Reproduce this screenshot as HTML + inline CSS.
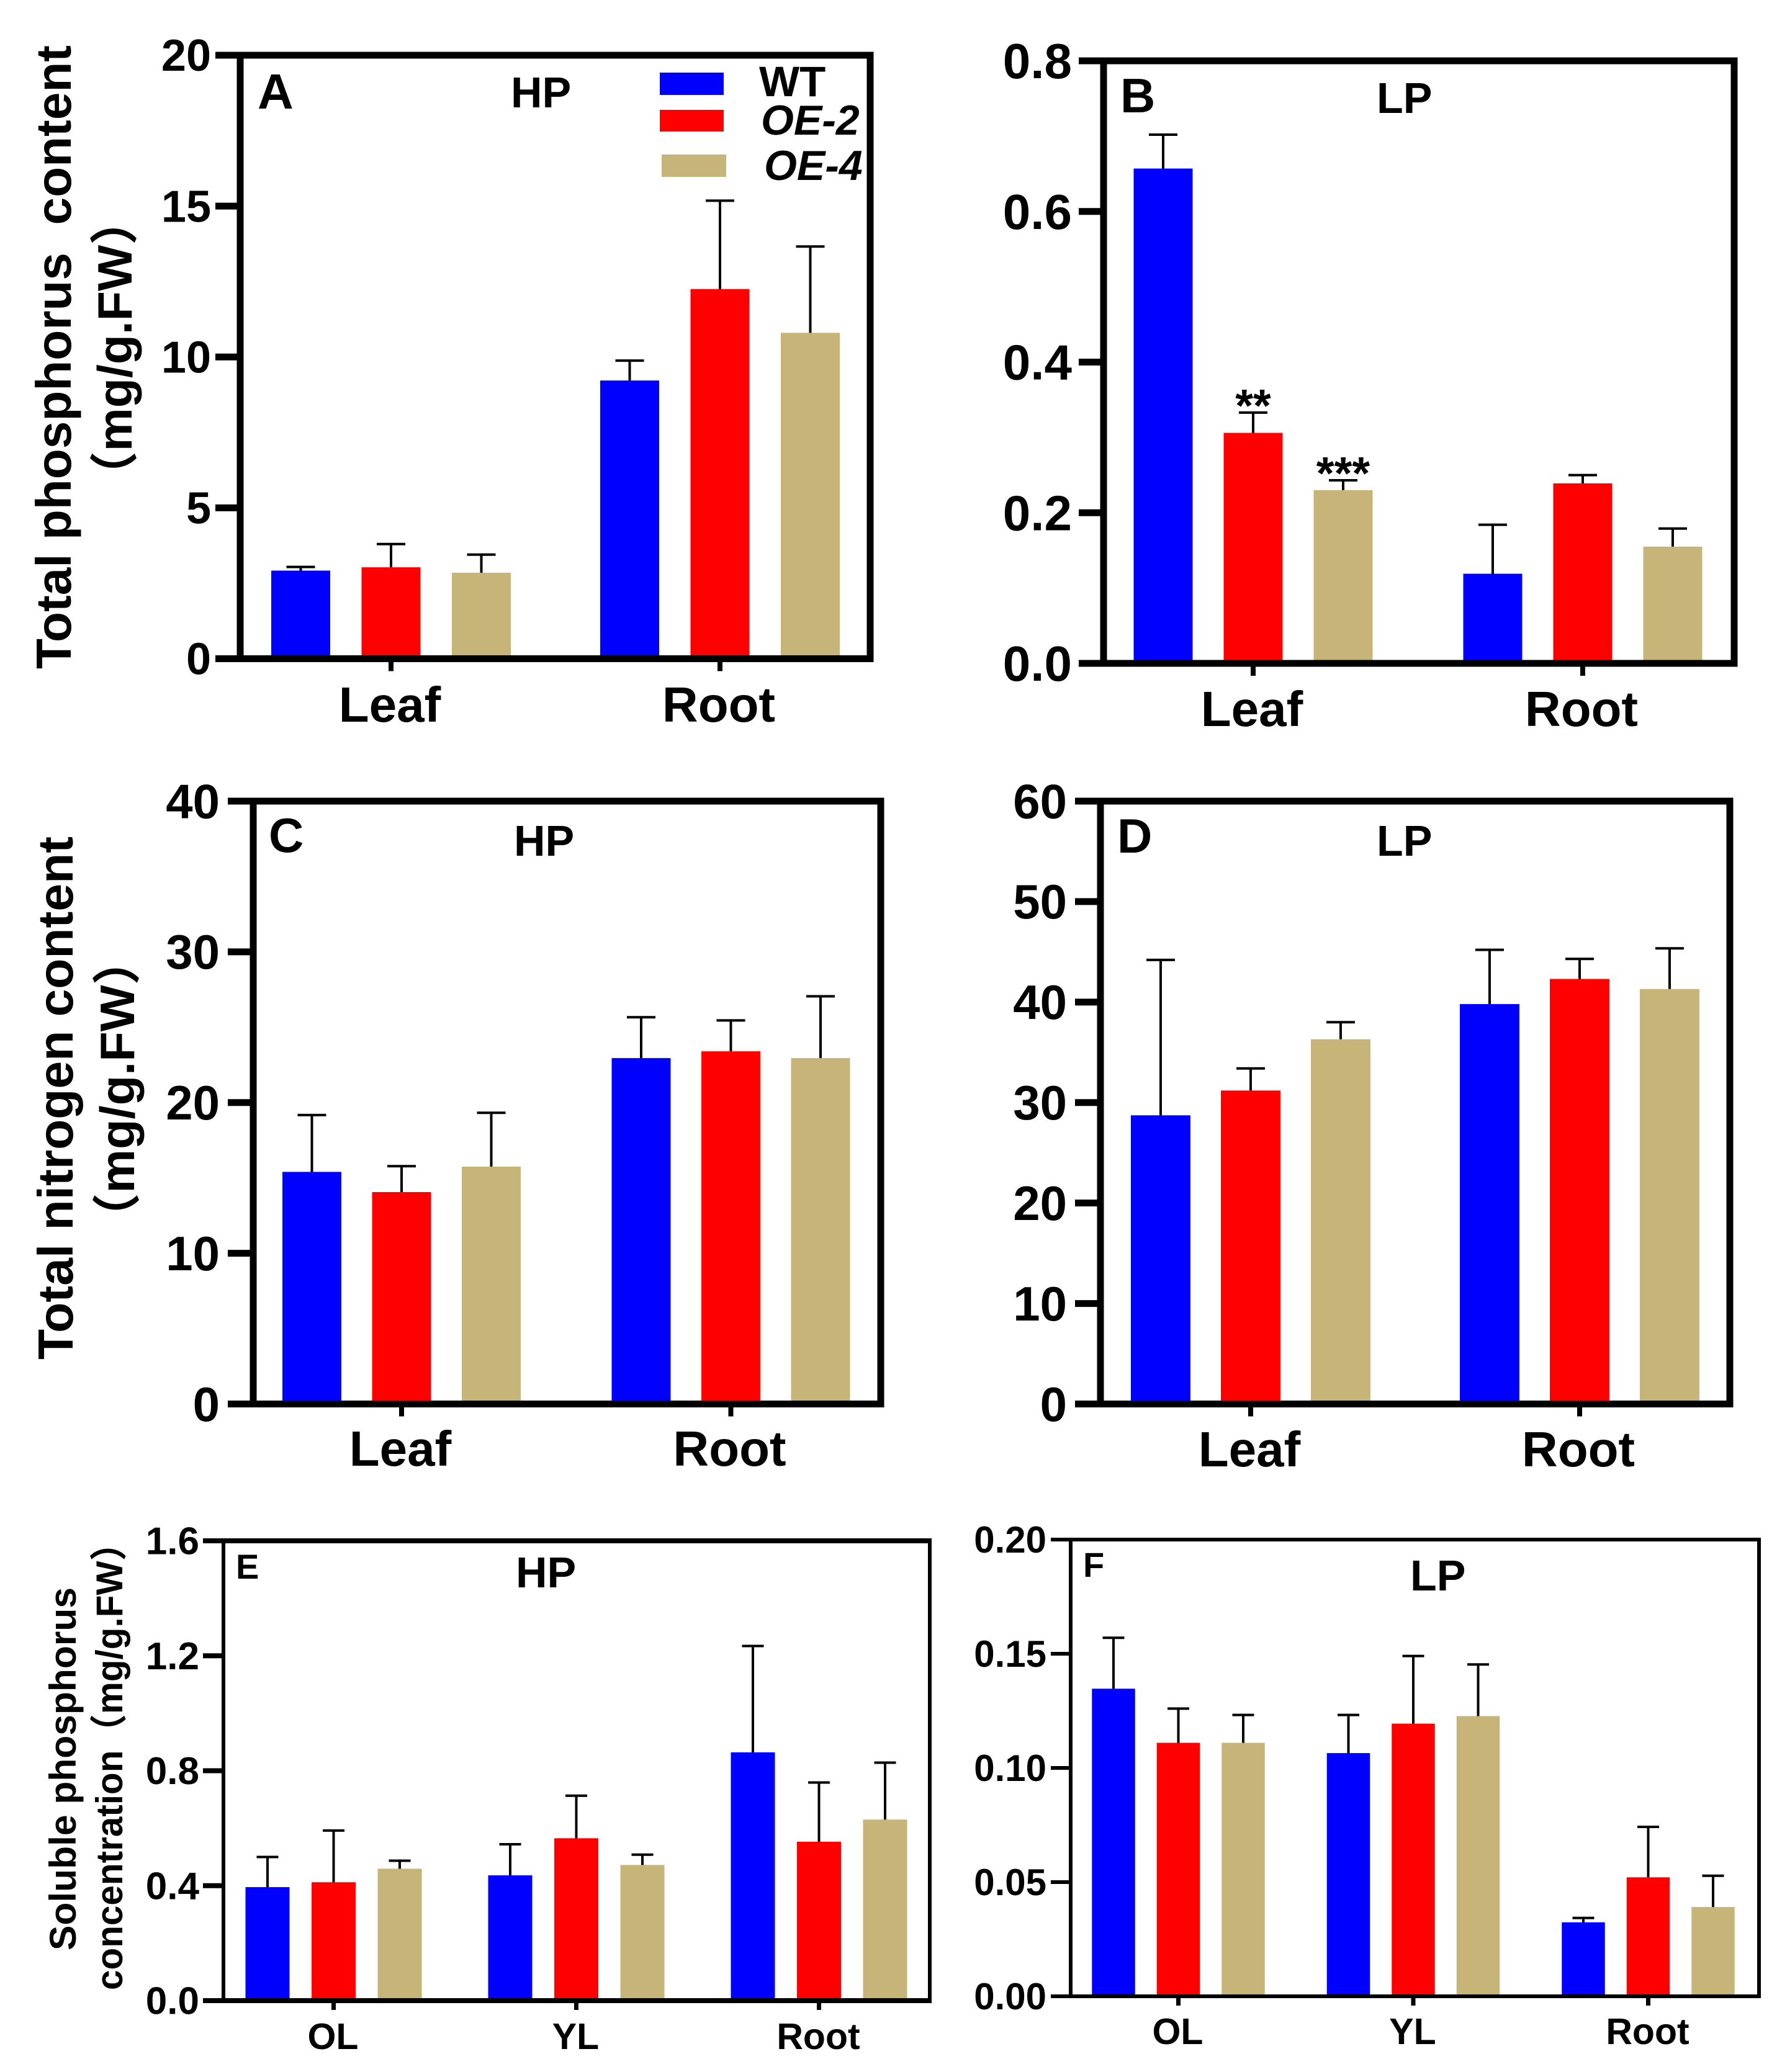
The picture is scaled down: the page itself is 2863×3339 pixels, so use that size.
<!DOCTYPE html>
<html lang="en">
<head>
<meta charset="utf-8">
<title>Phosphorus and nitrogen content bar charts</title>
<style>
html,body{margin:0;padding:0;background:#fff;}
svg{display:block;}
text{font-family:"Liberation Sans","Noto Sans CJK SC",sans-serif;font-weight:700;fill:#000;white-space:pre;}
</style>
</head>
<body>
<svg id="figure" xmlns="http://www.w3.org/2000/svg" width="2863" height="3339" viewBox="0 0 2863 3339">
  <rect x="0" y="0" width="2863" height="3339" fill="#fff"/>
  <g id="panels"></g>

  <text transform="translate(114,1078) rotate(-90)" font-size="80" textLength="1005" lengthAdjust="spacingAndGlyphs">Total phosphorus  content</text>
  <text transform="translate(212,806) rotate(-90)" font-size="78" textLength="490" lengthAdjust="spacingAndGlyphs">（mg/g.FW）</text>
  <text transform="translate(117,2191) rotate(-90)" font-size="80" textLength="843" lengthAdjust="spacingAndGlyphs">Total nitrogen content</text>
  <text transform="translate(216,2002) rotate(-90)" font-size="78" textLength="494" lengthAdjust="spacingAndGlyphs">（mg/g.FW）</text>
  <text transform="translate(122,3143) rotate(-90)" font-size="60" textLength="585" lengthAdjust="spacingAndGlyphs">Soluble phosphorus</text>
  <text transform="translate(197,3207) rotate(-90)" font-size="60" textLength="750" lengthAdjust="spacingAndGlyphs">concentration（mg/g.FW）</text>

  <g>
    <rect x="1063" y="117" width="103" height="36" fill="#0000ff"/>
    <rect x="1063" y="177" width="103" height="35" fill="#ff0000"/>
    <rect x="1066" y="249" width="104" height="36" fill="#c6b478"/>
    <text x="1223" y="155" font-size="69">WT</text>
    <text x="1226" y="217" font-size="68" font-style="italic">OE-2</text>
    <text x="1231" y="290" font-size="68" font-style="italic">OE-4</text>
  </g>
</svg>
<script>
// Shared categories and colours
const seriesColors = ['#0000ff', '#ff0000', '#c6b478'];
const seriesKeys = ['wt', 'oe-2', 'oe-4'];
const tissueCategories = ['Leaf', 'Root'];
const organCategories = ['OL', 'YL', 'Root'];

// Panel A
const aTicks = ['0', '5', '10', '15', '20'];
const aMeans = [[2.92, 9.22], [3.03, 12.25], [2.85, 10.8]];
const aErrors = [[0.12, 0.66], [0.77, 2.93], [0.6, 2.86]];
// Panel B
const bTicks = ['0.0', '0.2', '0.4', '0.6', '0.8'];
const bMeans = [[0.657, 0.119], [0.306, 0.239], [0.23, 0.155]];
const bErrors = [[0.045, 0.065], [0.027, 0.011], [0.013, 0.024]];
const bStars = [['', ''], ['**', ''], ['***', '']];
// Panel C
const cTicks = ['0', '10', '20', '30', '40'];
const cMeans = [[15.4, 22.95], [14.06, 23.4], [15.75, 22.95]];
const cErrors = [[3.77, 2.71], [1.72, 2.05], [3.57, 4.1]];
// Panel D
const dTicks = ['0', '10', '20', '30', '40', '50', '60'];
const dMeans = [[28.73, 39.8], [31.2, 42.3], [36.3, 41.3]];
const dErrors = [[15.47, 5.4], [2.2, 2.0], [1.7, 4.05]];
// Panel E
const eTicks = ['0.0', '0.4', '0.8', '1.2', '1.6'];
const eMeans = [[0.395, 0.436, 0.864], [0.412, 0.565, 0.553], [0.459, 0.472, 0.63]];
const eErrors = [[0.105, 0.108, 0.37], [0.18, 0.148, 0.206], [0.028, 0.036, 0.198]];
// Panel F
const fTicks = ['0.00', '0.05', '0.10', '0.15', '0.20'];
const fMeans = [[0.1347, 0.1065, 0.0324], [0.111, 0.1194, 0.0521], [0.111, 0.1227, 0.0391]];
const fErrors = [[0.0223, 0.0167, 0.0019], [0.015, 0.0296, 0.0221], [0.0122, 0.0226, 0.0137]];

const SVGNS = 'http://www.w3.org/2000/svg';
const root = document.getElementById('panels');

function make(parent, tag, attrs, content) {
  const el = document.createElementNS(SVGNS, tag);
  for (const k in attrs) el.setAttribute(k, attrs[k]);
  if (content !== undefined) el.textContent = content;
  parent.appendChild(el);
  return el;
}

function drawPanel(p) {
  const g = make(root, 'g', {});
  
  

  const yMax = parseFloat(p.ticks[p.ticks.length - 1]);
  const yScale = v => p.bottom - (v / yMax) * (p.bottom - p.top);
  const groupX = i => p.firstGroup + i * p.groupStep;
  const barX = (i, s) => groupX(i) + (s - 1) * p.barStep;

  // bars and error bars
  p.means.forEach((values, s) => {
    values.forEach((v, i) => {
      const cx = barX(i, s);
      const yTop = yScale(v);
      const yErr = yScale(v + p.errors[s][i]);

      const bar = make(g, 'rect', {x: cx - p.barWidth / 2, y: yTop, width: p.barWidth, height: p.bottom - yTop, fill: seriesColors[s]});
      
      

      const stem = make(g, 'line', {x1: cx, x2: cx, y1: yTop, y2: yErr, stroke: '#000', 'stroke-width': p.errWidth});
      
      

      const cap = make(g, 'line', {x1: cx - p.capWidth / 2, x2: cx + p.capWidth / 2, y1: yErr, y2: yErr, stroke: '#000', 'stroke-width': p.errWidth});
      
      

      if (p.stars && p.stars[s][i]) {
        const star = make(g, 'text', {x: cx, y: yErr + 14, 'font-size': 74, 'text-anchor': 'middle'}, p.stars[s][i]);
        
        
      }
    });
  });

  // frame: horizontal and vertical rules have different weights
  const frameTop = make(g, 'line', {x1: p.left, x2: p.right + p.vWidth / 2, y1: p.top, y2: p.top, stroke: '#000', 'stroke-width': p.hWidth});
  
  

  const frameBottom = make(g, 'line', {x1: p.left, x2: p.right + p.vWidth / 2, y1: p.bottom, y2: p.bottom, stroke: '#000', 'stroke-width': p.hWidth});
  
  

  const frameLeft = make(g, 'line', {x1: p.left, x2: p.left, y1: p.top - p.hWidth / 2, y2: p.bottom + p.hWidth / 2, stroke: '#000', 'stroke-width': p.vWidth});
  
  

  const frameRight = make(g, 'line', {x1: p.right, x2: p.right, y1: p.top - p.hWidth / 2, y2: p.bottom + p.hWidth / 2, stroke: '#000', 'stroke-width': p.vWidth});
  
  

  // y ticks
  p.ticks.forEach(label => {
    const y = yScale(parseFloat(label));
    const tick = make(g, 'line', {x1: p.tickStart, x2: p.left, y1: y, y2: y, stroke: '#000', 'stroke-width': p.hWidth});
    
    

    const txt = make(g, 'text', {x: p.tickLabelX, y: y + p.tickFont * 0.35, 'font-size': p.tickFont, 'text-anchor': 'end'}, label);
    
    
  });

  // x ticks and labels
  p.categories.forEach((name, i) => {
    const x = groupX(i);
    const tick = make(g, 'line', {x1: x, x2: x, y1: p.bottom, y2: p.bottom + p.xTickLen, stroke: '#000', 'stroke-width': p.xTickWidth});
    
    

    const txt = make(g, 'text', {x: x + p.xLabelDx, y: p.xLabelY, 'font-size': p.xFont, 'text-anchor': 'middle'}, name);
    
    
  });

  // panel letter and condition title
  const letter = make(g, 'text', {x: p.letterX, y: p.letterY, 'font-size': p.letterFont}, p.id.toUpperCase());
  
  

  const title = make(g, 'text', {x: p.titleX, y: p.titleY, 'font-size': 70}, p.title);
  
  
}

const bigStyle = {hWidth: 11, vWidth: 11, xTickWidth: 8, errWidth: 4, capWidth: 46, barWidth: 95, xTickLen: 20, xFont: 80, xLabelDx: -2};
const smallStyle = {vWidth: 6, xTickWidth: 7, errWidth: 4, capWidth: 35, xTickLen: 15, xFont: 59, xLabelDx: -1};

drawPanel(Object.assign({}, bigStyle, {id: 'a', title: 'HP', categories: tissueCategories, ticks: aTicks, means: aMeans, errors: aErrors,
  left: 387, right: 1402, top: 89, bottom: 1061.5, tickStart: 347, tickLabelX: 340, tickFont: 72,
  firstGroup: 630, groupStep: 530, barStep: 145.5, xLabelY: 1163,
  letterX: 415, letterY: 175, letterFont: 80, titleX: 823, titleY: 173}));

drawPanel(Object.assign({}, bigStyle, {id: 'b', title: 'LP', categories: tissueCategories, ticks: bTicks, means: bMeans, errors: bErrors, stars: bStars,
  left: 1778, right: 2794, top: 98, bottom: 1069, tickStart: 1738, tickLabelX: 1727, tickFont: 80,
  firstGroup: 2019, groupStep: 531, barStep: 145, xLabelY: 1170,
  letterX: 1805, letterY: 181, letterFont: 78, titleX: 2218, titleY: 182}));

drawPanel(Object.assign({}, bigStyle, {id: 'c', title: 'HP', categories: tissueCategories, ticks: cTicks, means: cMeans, errors: cErrors,
  left: 408, right: 1419, top: 1291, bottom: 2262.5, tickStart: 367, tickLabelX: 354, tickFont: 78,
  firstGroup: 647, groupStep: 530.5, barStep: 144.5, xLabelY: 2362,
  letterX: 433, letterY: 1373, letterFont: 78, titleX: 828, titleY: 1379}));

drawPanel(Object.assign({}, bigStyle, {id: 'd', title: 'LP', categories: tissueCategories, ticks: dTicks, means: dMeans, errors: dErrors,
  left: 1773, right: 2787, top: 1291, bottom: 2262.5, tickStart: 1732, tickLabelX: 1719, tickFont: 78,
  firstGroup: 2015, groupStep: 530, barStep: 145, barWidth: 96, xLabelY: 2363,
  letterX: 1800, letterY: 1374, letterFont: 78, titleX: 2218, titleY: 1379}));

drawPanel(Object.assign({}, smallStyle, {id: 'e', title: 'HP', categories: organCategories, ticks: eTicks, means: eMeans, errors: eErrors,
  hWidth: 8, barWidth: 71, left: 360, right: 1498, top: 2483, bottom: 3224, tickStart: 327, tickLabelX: 321, tickFont: 62,
  firstGroup: 537.5, groupStep: 391, barStep: 106.5, xLabelY: 3302,
  letterX: 380, letterY: 2544, letterFont: 56, titleX: 831, titleY: 2558}));

drawPanel(Object.assign({}, smallStyle, {id: 'f', title: 'LP', categories: organCategories, ticks: fTicks, means: fMeans, errors: fErrors,
  hWidth: 6, barWidth: 69.5, left: 1725, right: 2834, top: 2481, bottom: 3217, tickStart: 1693, tickLabelX: 1686, tickFont: 60,
  firstGroup: 1898.5, groupStep: 378.5, barStep: 104.5, xLabelY: 3294,
  letterX: 1745, letterY: 2541, letterFont: 56, titleX: 2272, titleY: 2563}));
</script>
</body>
</html>
